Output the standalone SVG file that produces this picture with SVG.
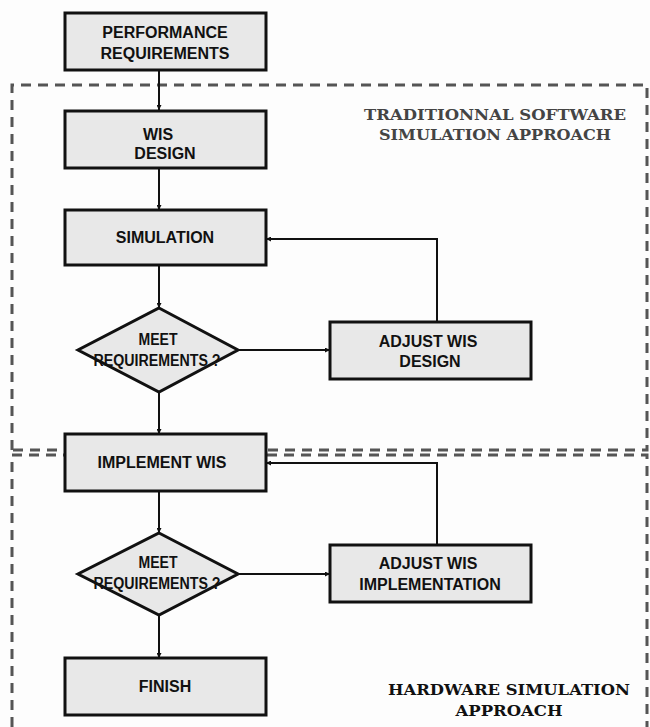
<svg xmlns="http://www.w3.org/2000/svg" width="650" height="727" viewBox="0 0 650 727">
<style>
.box{fill:#e8e8e8;stroke:#111;stroke-width:3}
.t{font-family:"Liberation Sans",Arial,sans-serif;font-weight:bold;font-size:16px;fill:#111;text-anchor:middle}
.d{font-family:"Liberation Sans",Arial,sans-serif;font-weight:bold;font-size:16px;fill:#111;text-anchor:middle}
.lab{font-family:"DejaVu Serif","Liberation Serif",serif;font-weight:bold;font-size:15px;text-anchor:middle}
.c{fill:none;stroke:#111;stroke-width:2}
.dash{fill:none;stroke:#555;stroke-width:3;stroke-dasharray:10 7}
</style>
<defs>
<marker id="ah" viewBox="0 0 10 10" refX="10" refY="5" markerWidth="5" markerHeight="5" orient="auto" markerUnits="userSpaceOnUse">
<path d="M0,0 L10,5 L0,10 z" fill="#111"/>
</marker>
</defs>
<rect width="650" height="727" fill="#fdfdfd"/>
<g id="regions">
<path class="dash" d="M12,450 L12,85 L647,85 L647,450 L12,450"/>
<path class="dash" d="M12,727 L12,455 L647,455 L647,727"/>
<text class="lab" x="495" y="120" fill="#444" textLength="262" lengthAdjust="spacingAndGlyphs">TRADITIONNAL SOFTWARE</text>
<text class="lab" x="495" y="140" fill="#444" textLength="232" lengthAdjust="spacingAndGlyphs">SIMULATION APPROACH</text>
<text class="lab" x="509" y="695" fill="#111" textLength="242" lengthAdjust="spacingAndGlyphs">HARDWARE SIMULATION</text>
<text class="lab" x="509" y="716" fill="#111" textLength="107" lengthAdjust="spacingAndGlyphs">APPROACH</text>
</g>
<g id="connectors">
<path class="c" d="M159,70 L159,110" marker-end="url(#ah)"/>
<path class="c" d="M159,168 L159,210" marker-end="url(#ah)"/>
<path class="c" d="M159,265 L159,308" marker-end="url(#ah)"/>
<path class="c" d="M159,392 L159,434" marker-end="url(#ah)"/>
<path class="c" d="M238,350 L330,350" marker-end="url(#ah)"/>
<path class="c" d="M437,322 L437,239 L266,239" marker-end="url(#ah)"/>
<path class="c" d="M159,491 L159,533" marker-end="url(#ah)"/>
<path class="c" d="M238,574 L330,574" marker-end="url(#ah)"/>
<path class="c" d="M437,545 L437,463 L266,463" marker-end="url(#ah)"/>
<path class="c" d="M159,615 L159,658" marker-end="url(#ah)"/>
</g>
<g id="perf">
<rect class="box" x="65" y="13" width="201" height="57"/>
<text class="t" x="165" y="38">PERFORMANCE</text>
<text class="t" x="165" y="59">REQUIREMENTS</text>
</g>
<g id="wisdesign">
<rect class="box" x="65" y="111" width="201" height="57"/>
<text class="t" x="158" y="140">WIS</text>
<text class="t" x="165" y="159">DESIGN</text>
</g>
<g id="simulation">
<rect class="box" x="65" y="210" width="201" height="55"/>
<text class="t" x="165" y="243">SIMULATION</text>
</g>
<g id="meet1">
<polygon class="box" points="159,308 238,350 159,392 78,350"/>
<text class="d" x="158" y="345" textLength="39" lengthAdjust="spacingAndGlyphs">MEET</text>
<text class="d" x="157" y="366" textLength="127" lengthAdjust="spacingAndGlyphs">REQUIREMENTS ?</text>
</g>
<g id="adjustdesign">
<rect class="box" x="330" y="322" width="201" height="57"/>
<text class="t" x="428" y="347">ADJUST WIS</text>
<text class="t" x="430" y="367">DESIGN</text>
</g>
<g id="implement">
<rect class="box" x="65" y="434" width="201" height="57"/>
<text class="t" x="162" y="468">IMPLEMENT WIS</text>
</g>
<g id="meet2">
<polygon class="box" points="159,533 238,574 159,615 78,574"/>
<text class="d" x="158" y="568" textLength="39" lengthAdjust="spacingAndGlyphs">MEET</text>
<text class="d" x="157" y="589" textLength="127" lengthAdjust="spacingAndGlyphs">REQUIREMENTS ?</text>
</g>
<g id="adjustimpl">
<rect class="box" x="330" y="545" width="201" height="57"/>
<text class="t" x="428" y="569">ADJUST WIS</text>
<text class="t" x="430" y="590">IMPLEMENTATION</text>
</g>
<g id="finish">
<rect class="box" x="65" y="658" width="201" height="57"/>
<text class="t" x="165" y="692">FINISH</text>
</g>
</svg>
